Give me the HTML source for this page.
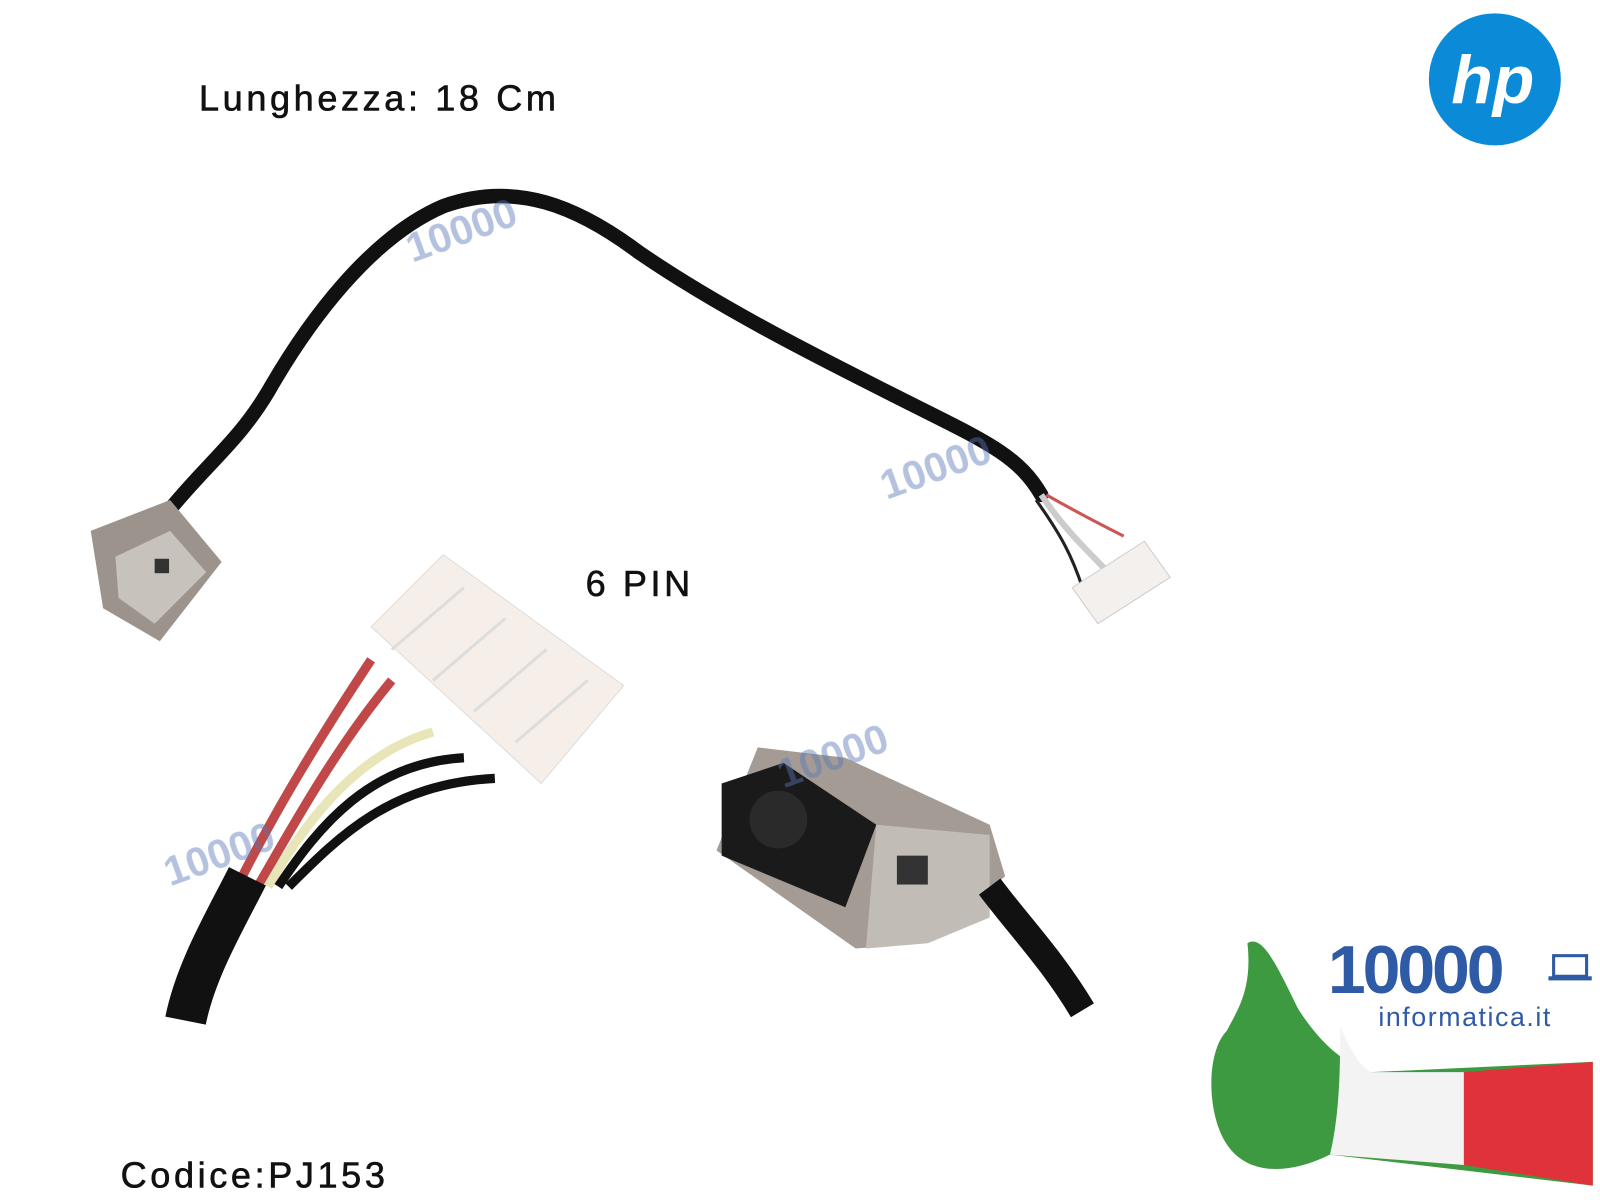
<!DOCTYPE html>
<html><head><meta charset="utf-8"><style>
html,body{margin:0;padding:0;background:#fff;width:1600px;height:1200px;overflow:hidden}
svg{display:block}
text{font-family:"Liberation Sans",sans-serif}
</style></head><body>
<svg width="1600" height="1200" viewBox="0 0 1552 1164" preserveAspectRatio="none" xmlns="http://www.w3.org/2000/svg">
<rect width="1552" height="1164" fill="#fff"/>
<g fill="#111" stroke="#111" stroke-width="0.6">
<text x="193" y="107" font-size="35" letter-spacing="3.5">Lunghezza: 18 Cm</text>
<text x="568" y="578" font-size="35" letter-spacing="3.5">6 PIN</text>
<text x="117" y="1152" font-size="35" letter-spacing="3.5">Codice:PJ153</text>
</g>
<!-- HP logo -->
<circle cx="1450" cy="77" r="64" fill="#0b8ad8"/>
<text x="1448" y="100" font-size="66" font-style="italic" font-weight="bold" fill="#fff" text-anchor="middle">hp</text>
<!-- top cable -->
<path d="M160 500 C200 450 230 430 260 380 C300 310 360 230 430 200 C500 175 560 200 620 245 C700 300 800 350 900 400 C960 430 990 445 1010 480" fill="none" stroke="#111" stroke-width="14" stroke-linecap="round"/>
<path d="M1010 480 C1030 510 1050 530 1080 560" fill="none" stroke="#ccc" stroke-width="6"/>
<path d="M1005 485 C1030 520 1040 540 1050 570" fill="none" stroke="#222" stroke-width="3"/>
<path d="M1015 480 C1050 500 1070 510 1090 520" fill="none" stroke="#c55" stroke-width="3"/>
<polygon points="1040,570 1110,525 1135,560 1065,605" fill="#f4f0ee" stroke="#ccc"/>
<!-- small jack -->
<polygon points="88,515 165,485 215,545 155,622 100,590" fill="#9c948c"/>
<polygon points="112,540 165,515 200,555 150,605 115,580" fill="#c8c2bc"/>
<rect x="150" y="542" width="14" height="14" fill="#333"/>
<!-- white connector -->
<polygon points="360,608 430,538 605,665 525,760" fill="#f6efe9" stroke="#ddd"/>
<path d="M380 630 L450 570 M420 660 L490 600 M460 690 L530 630 M500 720 L570 660" stroke="#ddd" stroke-width="3"/>
<!-- wires -->
<path d="M360 640 C320 700 270 780 230 860" stroke="#c04848" stroke-width="9" fill="none"/>
<path d="M380 660 C330 720 290 790 250 860" stroke="#c04848" stroke-width="9" fill="none"/>
<path d="M420 710 C350 730 300 790 260 860" stroke="#e8e6b8" stroke-width="9" fill="none"/>
<path d="M450 735 C360 740 310 800 270 860" stroke="#111" stroke-width="9" fill="none"/>
<path d="M480 755 C380 760 330 810 280 860" stroke="#111" stroke-width="9" fill="none"/>
<path d="M240 850 C220 890 190 940 180 990" stroke="#111" stroke-width="40" fill="none"/>
<!-- big jack -->
<polygon points="735,725 820,735 960,800 975,850 895,915 830,920 695,825" fill="#a49c94"/>
<polygon points="700,760 760,740 850,800 820,880 700,830" fill="#1a1a1a"/>
<circle cx="755" cy="795" r="28" fill="#2a2a2a"/>
<polygon points="850,800 960,810 960,890 900,915 840,920" fill="#c2bcb6"/>
<rect x="870" y="830" width="30" height="28" fill="#333"/>
<path d="M960 860 C990 900 1020 930 1050 980" stroke="#111" stroke-width="26" fill="none"/>
<!-- watermarks -->
<g fill="#5a78b8" opacity="0.45" font-weight="bold">
<text x="400" y="255" font-size="40" transform="rotate(-20 400 255)">10000</text>
<text x="860" y="485" font-size="40" transform="rotate(-20 860 485)">10000</text>
<text x="760" y="765" font-size="40" transform="rotate(-20 760 765)">10000</text>
<text x="165" y="860" font-size="40" transform="rotate(-20 165 860)">10000</text>
</g>
<!-- logo bottom right -->
<path d="M1210 915 C1225 905 1240 940 1260 980 C1280 1010 1300 1030 1330 1040 L1545 1030 L1545 1150 L1290 1120 C1250 1140 1210 1140 1190 1110 C1170 1080 1170 1020 1190 1000 C1200 980 1215 960 1210 915Z" fill="#3e9a40"/>
<path d="M1300 995 C1310 1020 1320 1035 1330 1040 L1420 1040 L1420 1130 L1290 1120 C1300 1080 1300 1030 1300 995Z" fill="#f3f3f3"/>
<path d="M1420 1040 L1545 1030 L1545 1150 L1420 1130Z" fill="#e0323a"/>
<text x="1288" y="963" font-size="66" font-weight="bold" fill="#2f5ba6" letter-spacing="-3">10000</text>
<rect x="1507" y="927" width="32" height="20" fill="none" stroke="#2f5ba6" stroke-width="3"/>
<rect x="1502" y="947" width="42" height="4" fill="#2f5ba6"/>
<text x="1337" y="995" font-size="26" fill="#2f5ba6" letter-spacing="1.5">informatica.it</text>
</svg>
</body></html>
